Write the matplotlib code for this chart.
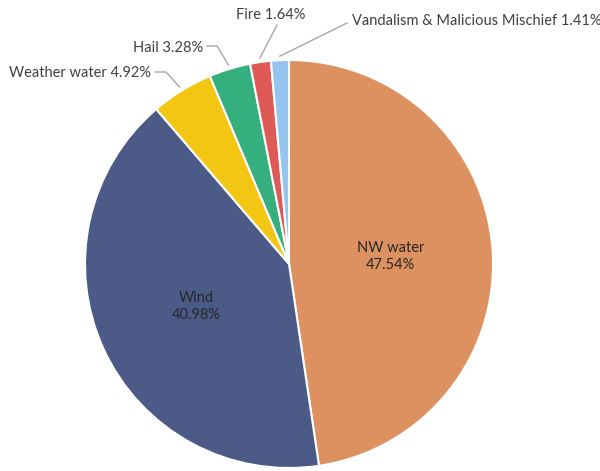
import matplotlib.pyplot as plt
import numpy as np

# data
categories = ['NW water', 'Wind', 'Weather water', 'Hail', 'Fire',
              'Vandalism & Malicious Mischief']
shares = [47.54, 40.98, 4.92, 3.28, 1.64, 1.41]
colors = ['#DE9160', '#4B5A87', '#F3C614', '#36AF7F', '#DF5A57', '#95C5EE']

W, H = 600, 471
cx, cy, R = 289, 264, 204  # pie centre and radius in pixels (y from top)

plt.rcParams['font.family'] = ['Lato', 'DejaVu Sans']

fig = plt.figure(figsize=(6, 4.71), dpi=100)
ax = fig.add_axes([0, 0, 1, 1])
wedges, _ = ax.pie(shares, colors=colors, startangle=90, counterclock=False,
                   center=(cx, H - cy), radius=R,
                   wedgeprops=dict(edgecolor='white', linewidth=1.5))
ax.set_xlim(0, W)
ax.set_ylim(0, H)
ax.set_aspect('equal')
ax.axis('off')


def px(x, y):
    return x, H - y


def wedge_point(w, r):
    a = np.deg2rad((w.theta1 + w.theta2) / 2)
    return cx + r * np.cos(a), (H - cy) + r * np.sin(a)


# labels inside the two large slices
for i in (0, 1):
    x, y = wedge_point(wedges[i], 0.5 * R)
    ax.text(x, y, f'{categories[i]}\n{shares[i]:.2f}%', ha='center', va='center',
            fontsize=10.5, color='#262626', linespacing=1.3)

# outside labels: text anchor, alignment, elbow points (pixels)
outer = {
    2: ((151, 73), 'right', [(155, 72), (166, 72)]),
    3: ((203, 48), 'right', [(207, 46), (217, 46)]),
    4: ((271, 15), 'center', [(277, 25)]),
    5: ((352, 21), 'left', [(347, 23)]),
}
for i, (tpos, ha, elbow) in outer.items():
    ex, ey = wedge_point(wedges[i], R + 4)
    pts = [px(*p) for p in elbow] + [(ex, ey)]
    xs, ys = zip(*pts)
    ax.plot(xs, ys, color='#A6A6A6', lw=1)
    ax.text(*px(*tpos), f'{categories[i]} {shares[i]:.2f}%', ha=ha, va='center',
            fontsize=10.5, color='#404040')

fig.savefig('out.png', dpi=100)
